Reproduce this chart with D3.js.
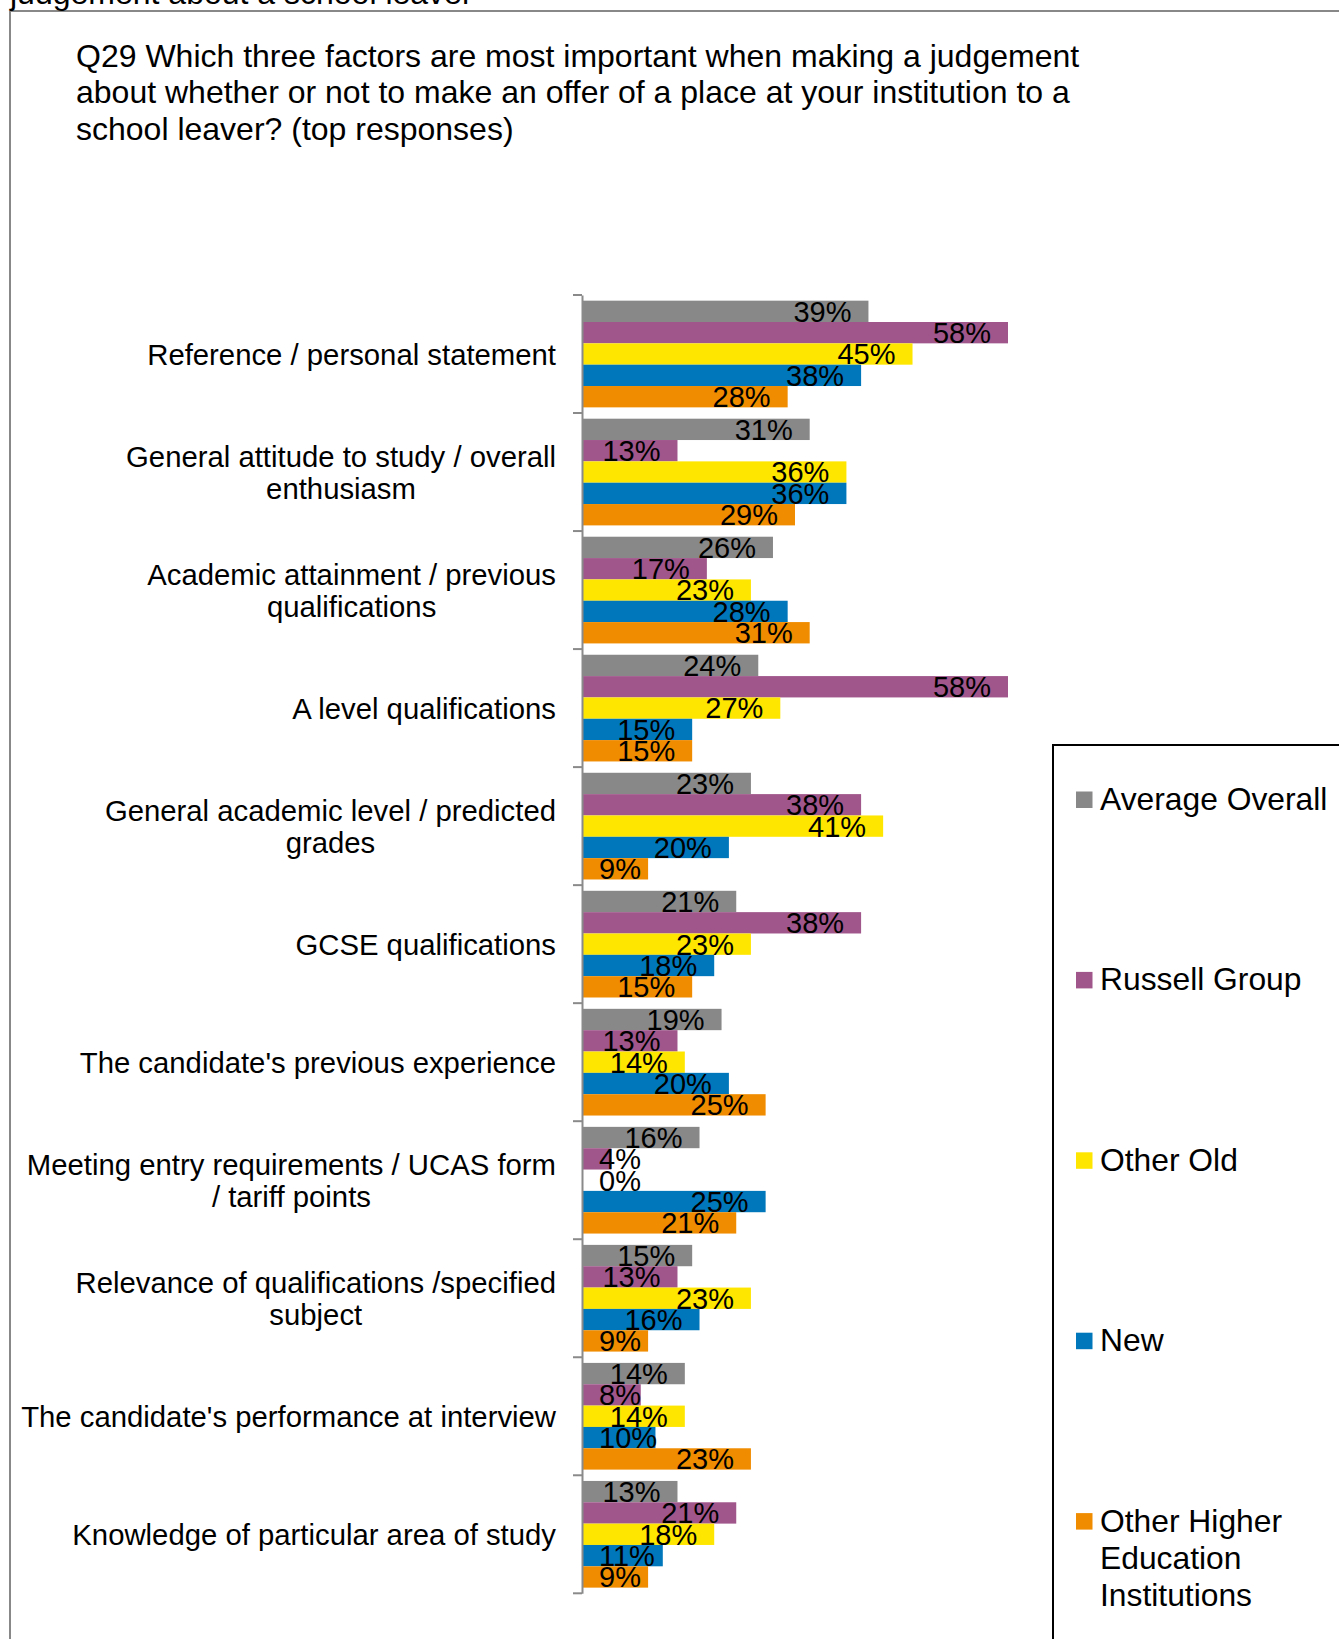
<!DOCTYPE html>
<html>
<head>
<meta charset="utf-8">
<script src="https://cdn.jsdelivr.net/npm/d3@7"></script>
<style>
  html, body { margin: 0; padding: 0; background: #fff; }
  svg { display: block; font-family: "Liberation Sans", Arial, sans-serif; }
</style>
</head>
<body>
<svg id="chart" width="1339" height="1639"></svg>
<script>
const titleLines = [
  "Q29 Which three factors are most important when making a judgement",
  "about whether or not to make an offer of a place at your institution to a",
  "school leaver? (top responses)"
];
const cutText = "judgement about a school leaver";

const categories = [
  ["Reference / personal statement"],
  ["General attitude to study / overall", "enthusiasm"],
  ["Academic attainment / previous", "qualifications"],
  ["A level qualifications"],
  ["General academic level / predicted", "grades"],
  ["GCSE qualifications"],
  ["The candidate's previous experience"],
  ["Meeting entry requirements / UCAS form", "/ tariff points"],
  ["Relevance of qualifications /specified", "subject"],
  ["The candidate's performance at interview"],
  ["Knowledge of particular area of study"]
];
const seriesNames = ["Average Overall", "Russell Group", "Other Old", "New", "Other Higher Education Institutions"];
const legendLines = [["Average Overall"], ["Russell Group"], ["Other Old"], ["New"], ["Other Higher", "Education", "Institutions"]];
const seriesColors = ["#888889", "#A0568B", "#FFE600", "#0077BB", "#F08C00"];

const averageOverall = [39, 31, 26, 24, 23, 21, 19, 16, 15, 14, 13];
const russellGroup   = [58, 13, 17, 58, 38, 38, 13, 4, 13, 8, 21];
const otherOld       = [45, 36, 23, 27, 41, 23, 14, 0, 23, 14, 18];
const newUni         = [38, 36, 28, 15, 20, 18, 20, 25, 16, 10, 11];
const otherHEI       = [28, 29, 31, 15, 9, 15, 25, 21, 9, 23, 9];
const seriesValues = [averageOverall, russellGroup, otherOld, newUni, otherHEI];

const svg = d3.select("#chart");
const FONT = 29;
const CATFONT = 29.3;

// frame lines
svg.append("line").attr("x1", 10).attr("x2", 1339).attr("y1", 11).attr("y2", 11)
  .attr("stroke", "#888").attr("stroke-width", 2);
svg.append("line").attr("x1", 10).attr("x2", 10).attr("y1", 11).attr("y2", 1639)
  .attr("stroke", "#888").attr("stroke-width", 2);
svg.append("text").attr("x", 10).attr("y", 4).attr("font-size", 32).attr("fill", "#000").text(cutText);

// title
svg.append("g").selectAll("text").data(titleLines).join("text")
  .attr("x", 76).attr("y", (d, i) => 66.5 + i * 36.6)
  .attr("font-size", 32).attr("fill", "#000").text(d => d);

// scales
const x0 = 582;
const x = d3.scaleLinear().domain([0, 58]).range([x0, 1008]);
const y = d3.scaleBand().domain(d3.range(categories.length)).range([295, 1593.3]).padding(0);
const ys = d3.scaleBand().domain(d3.range(seriesNames.length))
  .range([y.bandwidth() * 0.048, y.bandwidth() * 0.952]).padding(0);

// bars
const bars = svg.append("g");
categories.forEach((c, ci) => {
  seriesValues.forEach((vals, si) => {
    bars.append("rect")
      .attr("x", x(0))
      .attr("y", y(ci) + ys(si))
      .attr("width", x(vals[ci]) - x(0))
      .attr("height", ys.bandwidth())
      .attr("fill", seriesColors[si]);
  });
});

// axis
const axis = d3.axisLeft(y).tickValues([]).tickSizeOuter(0);
const axisG = svg.append("g").attr("transform", `translate(${x0},0)`).call(axis);
axisG.select(".domain").attr("stroke", "#8a8a8a").attr("stroke-width", 2);
const tickPos = d3.range(categories.length + 1).map(i => 295 + i * y.step());
axisG.selectAll(".sep").data(tickPos).join("line").attr("class", "sep")
  .attr("x1", -9).attr("x2", 0).attr("y1", d => d).attr("y2", d => d)
  .attr("stroke", "#8a8a8a").attr("stroke-width", 2);

// data labels
const labels = svg.append("g").attr("font-size", FONT).attr("fill", "#000");
categories.forEach((c, ci) => {
  seriesValues.forEach((vals, si) => {
    const cy = y(ci) + ys(si) + ys.bandwidth() / 2 + FONT * 0.358;
    const t = labels.append("text").attr("y", cy).attr("text-anchor", "end").text(vals[ci] + "%");
    const w = t.node().getComputedTextLength();
    const endX = Math.max(x(vals[ci]) - 17, x0 + 17 + w);
    t.attr("x", endX);
  });
});

// category labels
const catG = svg.append("g").attr("font-size", CATFONT).attr("fill", "#000");
categories.forEach((lines, ci) => {
  const tmp = lines.map(l => {
    const t = catG.append("text").text(l);
    const w = t.node().getComputedTextLength();
    t.remove();
    return w;
  });
  const maxW = d3.max(tmp);
  const cx = 556 - maxW / 2;
  const lh = 32;
  const center = y(ci) + y.bandwidth() / 2;
  lines.forEach((l, li) => {
    const cyl = center + (li - (lines.length - 1) / 2) * lh + CATFONT * 0.358;
    catG.append("text").attr("x", cx).attr("y", cyl).attr("text-anchor", "middle").text(l);
  });
});

// legend
svg.append("line").attr("x1", 1053).attr("x2", 1339).attr("y1", 745).attr("y2", 745)
  .attr("stroke", "#000").attr("stroke-width", 2);
svg.append("line").attr("x1", 1053).attr("x2", 1053).attr("y1", 744).attr("y2", 1639)
  .attr("stroke", "#000").attr("stroke-width", 2);
const leg = svg.append("g").attr("font-size", 31.8).attr("fill", "#000");
legendLines.forEach((lines, i) => {
  const base = 810 + i * 180.4;
  leg.append("rect").attr("x", 1076).attr("y", base - 18.5).attr("width", 16.5).attr("height", 16.5)
    .attr("fill", seriesColors[i]);
  lines.forEach((l, li) => {
    leg.append("text").attr("x", 1100).attr("y", base + li * 37.2).text(l);
  });
});
</script>
</body>
</html>
